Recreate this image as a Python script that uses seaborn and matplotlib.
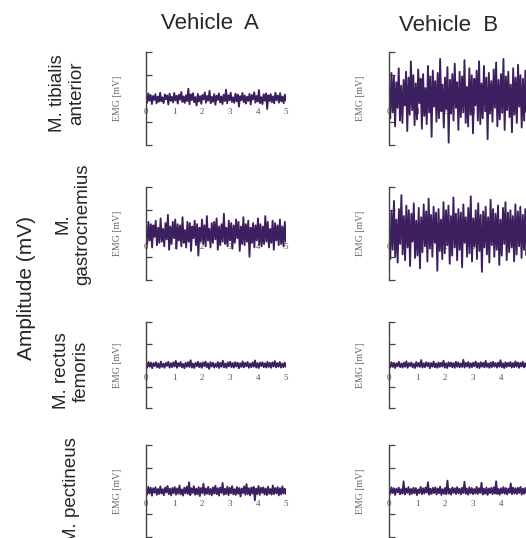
import numpy as np
import matplotlib
matplotlib.use("Agg")
import matplotlib.pyplot as plt
import seaborn as sns

# EMG traces over 5 s, values in 0.01 mV units
vehicles = ["Vehicle  A", "Vehicle  B"]
muscles = ["M. tibialis\nanterior", "M.\ngastrocnemius", "M. rectus\nfemoris", "M. pectineus"]
time_ticks = [0, 1, 2, 3, 4, 5]

ta_a = [3, -18, 22, -9, 15, -24, 11, -6, 19, -21, 8, -14, 25, -12, 5, -20, 17, -3, 13, -26, 21, -10, 7, -17,
        24, -8, 12, -22, 16, -5, 28, -15, 9, -19, 14, -11, 42, -25, 18, -7, 23, -16, 6, -30, 20, -13, 10, -23,
        15, -4, 26, -18, 11, -9, 33, -20, 7, -14, 19, -27, 12, -6, 22, -17, 9, -24, 16, -11, 38, -21, 14, -8,
        25, -15, 5, -19, 21, -12, 17, -35, 10, -7, 24, -16, 13, -22, 8, -10, 20, -26, 15, -4, 27, -18, 11, -13,
        36, -20, 6, -24, 18, -9, 22, -45, 14, -11, 19, -16, 9, -21, 25, -7, 13, -18, 23, -12, 8, -20, 17, -10]
ta_b = [20, -85, 110, -60, 95, -120, 70, -40, 130, -95, 55, -105, 80, -30, 115, -140, 90, -70, 160, -50,
        100, -115, 65, -90, 125, -20, 85, -130, 105, -75, 45, -110, 140, -60, 95, -165, 120, -35, 75, -100,
        110, -85, 170, -55, 60, -125, 90, -45, 135, -190, 80, -65, 105, -95, 150, -40, 70, -135, 115, -80,
        95, -60, 165, -105, 50, -120, 130, -70, 100, -150, 85, -30, 120, -95, 160, -110, 65, -85, 140, -55,
        90, -175, 110, -65, 75, -100, 125, -40, 155, -120, 80, -90, 105, -60, 170, -135, 95, -50, 115, -80,
        60, -145, 130, -70, 90, -105, 145, -35, 100, -125, 85, -95, 120, -60, 110, -115]
gc_a = [10, -45, 50, -30, 40, -60, 35, -15, 55, -50, 25, -40, 65, -35, 20, -55, 45, -25, 80, -70, 30, -45,
        50, -20, 60, -65, 40, -30, 35, -55, 70, -40, 15, -60, 50, -35, 45, -75, 30, -20, 55, -50, 40, -95,
        25, -35, 60, -45, 35, -55, 75, -30, 20, -60, 45, -40, 50, -25, 65, -70, 30, -50, 40, -35, 85, -45,
        25, -55, 55, -30, 45, -65, 35, -40, 60, -20, 50, -75, 30, -45, 70, -50, 40, -35, 55, -100, 25, -40,
        45, -60, 35, -30, 65, -50, 40, -55, 30, -45, 75, -35, 50, -60, 20, -40, 55, -70, 45, -30, 35, -50,
        60, -45, 30, -55, 50, -35]
gc_b = [30, -110, 95, -70, 140, -100, 60, -125, 105, -45, 165, -90, 75, -115, 120, -60, 100, -140, 85, -35,
        130, -105, 55, -95, 110, -150, 70, -80, 125, -55, 95, -120, 150, -65, 80, -100, 115, -40, 90, -160,
        105, -75, 60, -110, 135, -85, 100, -50, 120, -130, 75, -95, 155, -60, 85, -115, 105, -70, 90, -145,
        125, -40, 70, -100, 110, -85, 160, -120, 65, -55, 100, -110, 130, -75, 80, -165, 95, -60, 115, -90,
        70, -125, 145, -50, 105, -100, 85, -70, 120, -135, 60, -95, 110, -45, 135, -115, 90, -80, 100, -60,
        75, -120, 125, -90, 95, -55, 115, -105, 80, -70, 105, -95, 60, -110]
rf_a = [2, -12, 14, -8, 11, -15, 9, -5, 13, -11, 7, -14, 16, -9, 6, -13, 10, -4, 15, -12, 8, -10, 12, -7,
        19, -13, 9, -6, 14, -11, 5, -15, 11, -8, 13, -9, 22, -12, 7, -14, 10, -6, 15, -10, 9, -13, 12, -5,
        16, -11, 8, -18, 13, -7, 11, -12, 6, -9, 14, -14, 10, -8, 20, -11, 7, -13, 12, -6, 15, -10, 9, -12,
        13, -7, 11, -15, 8, -9, 17, -11, 10, -6, 14, -13, 7, -10, 12, -8, 21, -12, 9, -14, 11, -5, 13, -10,
        8, -12, 15, -9, 10, -13, 12, -7, 18, -11, 9, -8, 14, -12, 7, -10, 11, -9]
rf_b = [4, -11, 13, -9, 10, -14, 8, -6, 15, -10, 7, -12, 11, -8, 17, -13, 9, -5, 12, -11, 6, -14, 14, -7,
        10, -9, 23, -12, 8, -10, 13, -6, 11, -15, 9, -8, 16, -11, 7, -13, 12, -9, 10, -7, 20, -12, 8, -14,
        13, -6, 11, -10, 9, -13, 15, -8, 12, -11, 7, -9, 24, -12, 10, -7, 14, -13, 8, -10, 11, -6, 16, -12,
        9, -14, 13, -8, 10, -11, 19, -9, 7, -13, 12, -10, 15, -7, 9, -12, 11, -8, 22, -11, 8, -14, 13, -9,
        10, -6, 14, -12, 9, -10, 17, -8, 12, -13, 10, -7, 15, -11, 8, -9, 13, -12]
pe_a = [5, -15, 18, -10, 14, -20, 12, -7, 16, -17, 9, -13, 20, -11, 8, -18, 15, -6, 22, -14, 10, -19, 13, -9,
        17, -16, 11, -12, 24, -15, 7, -20, 14, -10, 19, -13, 38, -18, 12, -8, 21, -16, 10, -14, 17, -22, 13, -9,
        32, -17, 11, -12, 18, -15, 9, -19, 16, -11, 23, -14, 12, -20, 15, -8, 35, -16, 10, -13, 19, -18, 14, -10,
        21, -15, 8, -17, 17, -12, 13, -24, 11, -9, 20, -16, 30, -14, 12, -19, 15, -11, 18, -40, 10, -13, 22, -17,
        14, -8, 16, -15, 11, -18, 19, -12, 9, -16, 24, -14, 13, -10, 17, -19, 12, -15, 20, -11, 10, -14]
pe_b = [3, -13, 16, -9, 12, -17, 10, -6, 15, -14, 8, -11, 42, -15, 11, -8, 17, -16, 9, -12, 14, -10, 13, -18,
        7, -9, 18, -14, 12, -11, 15, -7, 38, -16, 10, -13, 14, -9, 16, -15, 11, -10, 19, -17, 8, -12, 13, -14,
        45, -11, 9, -16, 15, -8, 12, -13, 17, -10, 10, -15, 14, -9, 40, -12, 11, -16, 16, -10, 13, -14, 9, -11,
        18, -13, 12, -8, 36, -15, 10, -12, 15, -17, 11, -9, 14, -14, 16, -11, 42, -13, 9, -16, 12, -10, 17, -12,
        13, -15, 10, -8, 33, -14, 15, -11, 12, -13, 14, -9, 18, -16, 11, -12, 13, -10, 16, -14]

traces = [[ta_a, ta_b], [gc_a, gc_b], [rf_a, rf_b], [pe_a, pe_b]]

sns.set_style("white")
plt.rcParams["font.family"] = ["Liberation Sans", "DejaVu Sans"]

W, H = 526, 538
fig = plt.figure(figsize=(W / 100, H / 100), dpi=100)

trace_color = "#3b1f5e"
col_left = [146, 389]
col_width = 140
row_span = [(52, 145), (187, 280), (322, 408), (445, 537)]
serif = ["Liberation Serif", "DejaVu Serif"]

for r, (top, bot) in enumerate(row_span):
    for c in range(2):
        ax = fig.add_axes([col_left[c] / W, 1 - bot / H, col_width / W, (bot - top) / H])
        y = np.array(traces[r][c]) / 100.0
        t = np.linspace(0, 5, len(y))
        sns.lineplot(x=t, y=y, ax=ax, color=trace_color, lw=1.35, estimator=None, sort=False)
        ax.set_xlim(0, 5)
        ax.set_ylim(-2, 2)
        ax.set_facecolor("none")
        for s in ["top", "right"]:
            ax.spines[s].set_visible(False)
        ax.spines["bottom"].set_position("zero")
        ax.spines["bottom"].set_visible(False)
        ax.spines["left"].set_color("#444444")
        ax.spines["left"].set_linewidth(1.0)
        ax.set_yticks([-2, -1, 0, 1, 2])
        ax.set_yticklabels([])
        ax.tick_params(axis="y", direction="in", length=4, width=0.9, color="#444444", left=True)
        ax.set_xticks(time_ticks)
        ax.set_xticklabels([str(v) for v in time_ticks], family=serif, fontsize=6.5, color="#555555")
        ax.tick_params(axis="x", length=0, pad=6.5, bottom=True)
        ax.set_xlabel("")
        ax.set_ylabel("EMG [mV]", family=serif, fontsize=7, color="#666666", labelpad=14)

# column titles
fig.text(210 / W, 1 - 29 / H, vehicles[0], ha="center", va="baseline", fontsize=16)
fig.text(449 / W, 1 - 31 / H, vehicles[1], ha="center", va="baseline", fontsize=16)

# row labels
label_pos = [(67, 93), (73, 224), (71, 371), (71, 490)]
for name, (lx, ly) in zip(muscles, label_pos):
    fig.text(lx / W, 1 - ly / H, name, rotation=90, ha="center", va="center",
             multialignment="center", fontsize=13.5)

fig.text(27 / W, 1 - 288 / H, "Amplitude (mV)", rotation=90, ha="center", va="center", fontsize=15)

fig.savefig("out.png", dpi=100)
